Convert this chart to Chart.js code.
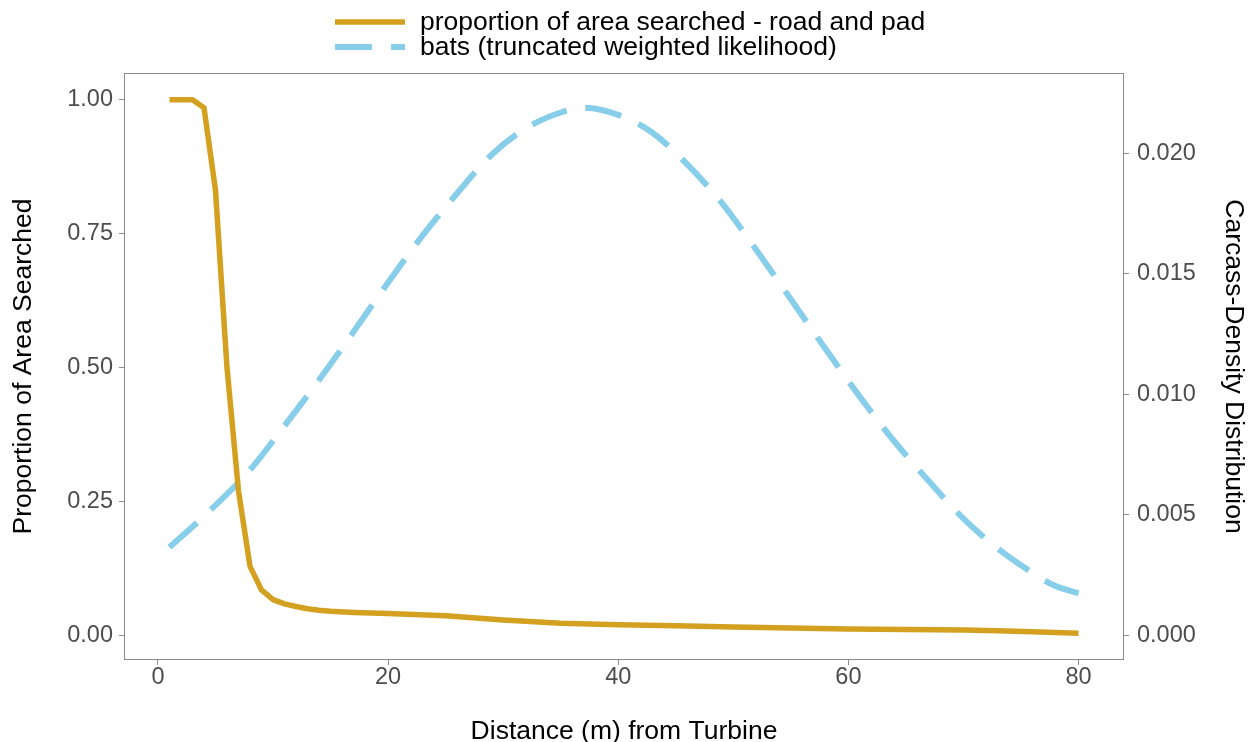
<!DOCTYPE html>
<html>
<head>
<meta charset="utf-8">
<script src="https://cdn.jsdelivr.net/npm/chart.js@4/dist/chart.umd.min.js"></script>
<style>
  body { margin: 0; background: #fff; }
  canvas { display: block; }
</style>
</head>
<body>
<canvas id="distChart" width="1255" height="742"></canvas>
<script>
// distance (m) and proportion of area searched - road and pad
const searchDist = [1, 2, 3, 4, 5, 6, 7, 8, 9, 10, 11, 12, 13, 14, 15, 17, 20, 25, 30, 35, 40, 45, 50, 55, 60, 65, 70, 73, 76, 80];
const searchProp = [1.0, 1.0, 1.0, 0.985, 0.831, 0.50, 0.27, 0.129, 0.085, 0.067, 0.059, 0.054, 0.050, 0.047, 0.045, 0.043, 0.041, 0.037, 0.029, 0.023, 0.020, 0.018, 0.016, 0.014, 0.012, 0.011, 0.010, 0.009, 0.007, 0.004];

// bats carcass density (truncated weighted likelihood)
const batDist = [1, 4, 8, 11, 14, 17, 20, 23, 26, 29, 32, 35, 37, 40, 43, 46, 49, 52, 55, 58, 61, 64, 67, 70, 73, 76, 78, 80];
const batDensity = [0.00366, 0.00495, 0.00687, 0.0087, 0.0106, 0.0126, 0.01465, 0.0166, 0.01835, 0.01995, 0.02105, 0.0217, 0.0219, 0.0216, 0.02085, 0.01955, 0.01795, 0.0160, 0.01395, 0.0119, 0.0099, 0.00805, 0.0064, 0.00485, 0.0036, 0.0026, 0.00205, 0.00175];

const xTicks = [0, 20, 40, 60, 80];
const leftTicks = [0, 0.25, 0.5, 0.75, 1.0];
const rightTicks = [0, 0.005, 0.01, 0.015, 0.02];

const seriesNames = ['proportion of area searched - road and pad', 'bats (truncated weighted likelihood)'];
const orange = '#D4A020';
const blue = '#87CEEB';
const frameGrey = '#8a8a8a';
const fontFam = '"Liberation Sans", Arial, sans-serif';

// panel border + ggplot-like legend
const framePlugin = {
  id: 'frame',
  afterDatasetsDraw(chart) {
    const a = chart.chartArea;
    const c = chart.ctx;
    c.save();
    c.strokeStyle = frameGrey;
    c.lineWidth = 1;
    c.strokeRect(a.left + 0.5, a.top + 0.5, a.right - a.left - 1, a.bottom - a.top - 1);
    c.restore();
  },
  afterDraw(chart) {
    const c = chart.ctx;
    const ds = chart.data.datasets;
    c.save();
    c.font = '26.5px ' + fontFam;
    c.textBaseline = 'middle';
    c.fillStyle = '#000';
    ds.forEach((d, i) => {
      const y = 22 + i * 25;
      c.beginPath();
      c.strokeStyle = d.borderColor;
      c.lineWidth = d.borderWidth;
      c.setLineDash(d.borderDash || []);
      c.moveTo(335, y);
      c.lineTo(405, y);
      c.stroke();
      c.setLineDash([]);
      c.fillText(d.label, 420, y + 1);
    });
    c.restore();
  }
};

const tickFont = { family: fontFam, size: 23.5 };
const titleFont = { family: fontFam, size: 26.5 };

const ctx = document.getElementById('distChart').getContext('2d');
const distChart = new Chart(ctx, {
  type: 'line',
  data: {
    datasets: [{
      label: seriesNames[0],
      data: searchDist.map((d, i) => ({ x: d, y: searchProp[i] })),
      borderColor: orange,
      borderWidth: 5.5,
      borderJoinStyle: 'round',
      pointRadius: 0,
      tension: 0,
      yAxisID: 'y'
    },
    {
      label: seriesNames[1],
      data: batDist.map((d, i) => ({ x: d, y: batDensity[i] })),
      borderColor: blue,
      borderWidth: 6,
      borderDash: [37, 19],
      pointRadius: 0,
      cubicInterpolationMode: 'monotone',
      yAxisID: 'y2'
    }]
  },
  options: {
    responsive: false,
    devicePixelRatio: 1,
    animation: false,
    layout: { padding: { top: 73, left: 0, right: 0, bottom: 0 } },
    plugins: {
      legend: { display: false },
      tooltip: { enabled: false }
    },
    scales: {
      x: {
        type: 'linear',
        min: -2.95,
        max: 83.95,
        afterBuildTicks: axis => { axis.ticks = xTicks.map(v => ({ value: v })); },
        afterFit: axis => { axis.height = 82; },
        grid: { drawOnChartArea: false, drawTicks: true, tickLength: 5, color: frameGrey },
        border: { display: false },
        ticks: { font: { family: fontFam, size: 23.5, lineHeight: 1 }, color: '#4D4D4D', padding: 1, maxRotation: 0 },
        title: {
          display: true,
          text: 'Distance (m) from Turbine',
          font: { family: fontFam, size: 26.5, lineHeight: 0.8 },
          color: '#000',
          padding: { top: 0, bottom: 0 }
        }
      },
      y: {
        position: 'left',
        min: -0.0458,
        max: 1.0498,
        afterBuildTicks: axis => { axis.ticks = leftTicks.map(v => ({ value: v })); },
        afterFit: axis => { axis.width = 124; },
        grid: { drawOnChartArea: false, drawTicks: true, tickLength: 5, color: frameGrey },
        border: { display: false },
        ticks: { font: tickFont, color: '#4D4D4D', padding: 6, callback: v => v.toFixed(2) },
        title: {
          display: true,
          text: 'Proportion of Area Searched',
          font: titleFont,
          color: '#000',
          padding: { top: 8, bottom: 0 }
        }
      },
      y2: {
        position: 'right',
        min: -0.001017,
        max: 0.02334,
        afterBuildTicks: axis => { axis.ticks = rightTicks.map(v => ({ value: v })); },
        afterFit: axis => { axis.width = 131; },
        grid: { drawOnChartArea: false, drawTicks: true, tickLength: 5, color: frameGrey },
        border: { display: false },
        ticks: { font: tickFont, color: '#4D4D4D', padding: 8, callback: v => v.toFixed(3) },
        title: {
          display: true,
          text: 'Carcass-Density Distribution',
          font: titleFont,
          color: '#000',
          padding: { top: 6, bottom: 0 }
        }
      }
    }
  },
  plugins: [framePlugin]
});
</script>
</body>
</html>
